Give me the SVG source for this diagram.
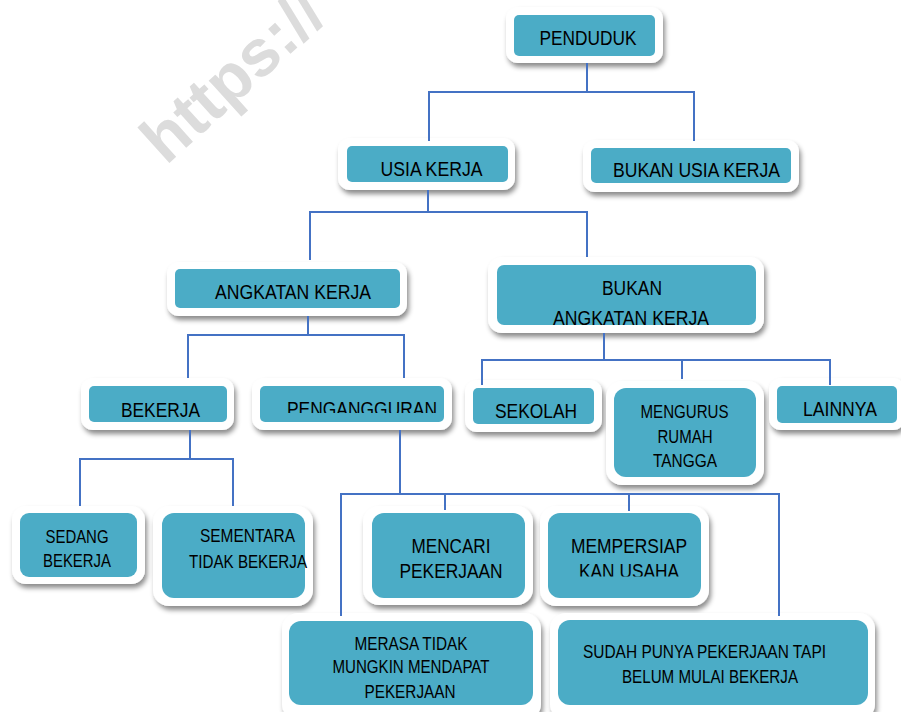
<svg xmlns="http://www.w3.org/2000/svg" width="901" height="712" viewBox="0 0 901 712">
<style>
.o{fill:#fff;filter:url(#sh)}
.i{fill:#4BACC6}
text{font-family:"Liberation Sans",Arial,sans-serif;fill:#000;text-anchor:middle}
.l{font-size:21px}
.m{font-size:20px}
.s{font-size:17.5px}
.c{fill:none;stroke:#4472C4;stroke-width:2}
.wm{font-family:"Liberation Sans",Arial,sans-serif;font-weight:bold;font-size:66px;fill:#dcdcdc;text-anchor:start}
</style>
<defs>
<filter id="sh" x="-10%" y="-10%" width="125%" height="130%">
<feDropShadow dx="2" dy="4" stdDeviation="2.5" flood-color="#000" flood-opacity="0.45"/>
</filter>
<clipPath id="cp1"><rect x="250" y="380" width="200" height="33"/></clipPath>
<clipPath id="cp2"><rect x="497" y="265" width="259" height="60"/></clipPath>
<clipPath id="cp3"><rect x="540" y="510" width="170" height="66.5"/></clipPath>
</defs>
<rect width="901" height="712" fill="#fff"/>
<text class="wm" transform="translate(166,166) rotate(-42)">https://</text>

<g id="penduduk">
<rect class="o" x="506" y="7" width="157" height="56" rx="12"/>
<rect class="i" x="514" y="15" width="141" height="41" rx="5"/>
<text class="l" x="588" y="45" textLength="97" lengthAdjust="spacingAndGlyphs">PENDUDUK</text>
</g>
<g id="usia-kerja">
<rect class="o" x="338" y="138" width="177" height="52" rx="12"/>
<rect class="i" x="347" y="146" width="161" height="36" rx="5"/>
<text class="l" x="431.5" y="176" textLength="102" lengthAdjust="spacingAndGlyphs">USIA KERJA</text>
</g>
<g id="bukan-usia-kerja">
<rect class="o" x="583" y="140" width="216" height="52" rx="12"/>
<rect class="i" x="591" y="148" width="200" height="35" rx="5"/>
<text class="l" x="696.5" y="177" textLength="167" lengthAdjust="spacingAndGlyphs">BUKAN USIA KERJA</text>
</g>
<g id="angkatan-kerja">
<rect class="o" x="167" y="262" width="240" height="54" rx="12"/>
<rect class="i" x="175" y="269" width="225" height="39" rx="5"/>
<text class="l" x="293" y="299" textLength="156" lengthAdjust="spacingAndGlyphs">ANGKATAN KERJA</text>
</g>
<g id="bukan-angkatan-kerja">
<rect class="o" x="488" y="257" width="276" height="76" rx="14"/>
<rect class="i" x="497" y="265" width="259" height="60" rx="7"/>
<text class="m" x="632" y="295" textLength="60" lengthAdjust="spacingAndGlyphs">BUKAN</text>
<text class="m" x="631" y="324.5" textLength="156" lengthAdjust="spacingAndGlyphs" clip-path="url(#cp2)">ANGKATAN KERJA</text>
</g>
<g id="bekerja">
<rect class="o" x="81" y="378" width="153" height="52" rx="12"/>
<rect class="i" x="89" y="386" width="138" height="36" rx="5"/>
<text class="l" x="160.5" y="417" textLength="79" lengthAdjust="spacingAndGlyphs">BEKERJA</text>
</g>
<g id="pengangguran">
<rect class="o" x="252" y="378" width="200" height="52" rx="12"/>
<rect class="i" x="260" y="386" width="184" height="36" rx="5"/>
<text class="l" x="362" y="416" textLength="150" lengthAdjust="spacingAndGlyphs" clip-path="url(#cp1)">PENGANGGURAN</text>
</g>
<g id="sekolah">
<rect class="o" x="465" y="380" width="137" height="52" rx="12"/>
<rect class="i" x="473" y="388" width="121" height="36" rx="5"/>
<text class="l" x="536" y="418" textLength="82" lengthAdjust="spacingAndGlyphs">SEKOLAH</text>
</g>
<g id="mengurus-rumah-tangga">
<rect class="o" x="606" y="381" width="158" height="104" rx="16"/>
<rect class="i" x="614" y="388" width="142" height="89" rx="12"/>
<text class="s" x="684.5" y="418" textLength="88" lengthAdjust="spacingAndGlyphs">MENGURUS</text>
<text class="s" x="685" y="443" textLength="55" lengthAdjust="spacingAndGlyphs">RUMAH</text>
<text class="s" x="685" y="467" textLength="64" lengthAdjust="spacingAndGlyphs">TANGGA</text>
</g>
<g id="lainnya">
<rect class="o" x="769" y="378" width="136" height="52" rx="12"/>
<rect class="i" x="777" y="386" width="120" height="37" rx="5"/>
<text class="m" x="840" y="416" textLength="74" lengthAdjust="spacingAndGlyphs">LAINNYA</text>
</g>
<g id="sedang-bekerja">
<rect class="o" x="12" y="506" width="133" height="78" rx="14"/>
<rect class="i" x="20" y="513" width="117" height="64" rx="9"/>
<text class="s" x="77" y="543" textLength="63" lengthAdjust="spacingAndGlyphs">SEDANG</text>
<text class="s" x="77" y="567" textLength="68" lengthAdjust="spacingAndGlyphs">BEKERJA</text>
</g>
<g id="sementara-tidak-bekerja">
<rect class="o" x="153" y="506" width="160" height="100" rx="16"/>
<rect class="i" x="162" y="513" width="143" height="85" rx="12"/>
<text class="s" x="247.5" y="542" textLength="95" lengthAdjust="spacingAndGlyphs">SEMENTARA</text>
<text class="s" x="248" y="568" textLength="118" lengthAdjust="spacingAndGlyphs">TIDAK BEKERJA</text>
</g>
<g id="mencari-pekerjaan">
<rect class="o" x="363" y="506" width="170" height="99" rx="16"/>
<rect class="i" x="372" y="513" width="153" height="85" rx="12"/>
<text class="l" x="451" y="553" textLength="79" lengthAdjust="spacingAndGlyphs">MENCARI</text>
<text class="l" x="451" y="578" textLength="103" lengthAdjust="spacingAndGlyphs">PEKERJAAN</text>
</g>
<g id="mempersiapkan-usaha">
<rect class="o" x="540" y="506" width="169" height="100" rx="16"/>
<rect class="i" x="548" y="513" width="153" height="85" rx="12"/>
<text class="l" x="629" y="553" textLength="116" lengthAdjust="spacingAndGlyphs">MEMPERSIAP</text>
<text class="l" x="629" y="578" textLength="100" lengthAdjust="spacingAndGlyphs" clip-path="url(#cp3)">KAN USAHA</text>
</g>
<g id="merasa-tidak-mungkin">
<rect class="o" x="282" y="613" width="259" height="107" rx="16"/>
<rect class="i" x="289" y="621" width="244" height="84" rx="12"/>
<text class="s" x="411" y="650" textLength="113" lengthAdjust="spacingAndGlyphs">MERASA TIDAK</text>
<text class="s" x="411" y="673" textLength="157" lengthAdjust="spacingAndGlyphs">MUNGKIN MENDAPAT</text>
<text class="s" x="410" y="698" textLength="91" lengthAdjust="spacingAndGlyphs">PEKERJAAN</text>
</g>
<g id="sudah-punya-pekerjaan">
<rect class="o" x="550" y="613" width="325" height="107" rx="16"/>
<rect class="i" x="558" y="620" width="310" height="85" rx="12"/>
<text class="s" x="704.5" y="658" textLength="243" lengthAdjust="spacingAndGlyphs">SUDAH PUNYA PEKERJAAN TAPI</text>
<text class="s" x="710" y="683" textLength="176" lengthAdjust="spacingAndGlyphs">BELUM MULAI BEKERJA</text>
</g>

<g id="connectors" class="c">
<path d="M587,63 V92 M429,141 V92 H694 V141"/>
<path d="M428,190 V212 M310,260 V212 H587 V257"/>
<path d="M308,316 V335 M188,378 V335 H404 V378"/>
<path d="M604,333 V360 M482,385 V360 H830 V385 M682,360 V379"/>
<path d="M190,430 V459 M80,506 V459 H233 V506"/>
<path d="M400,430 V494 M341,616 V494 H779 V616 M445,494 V510 M629,494 V511"/>
</g>
</svg>
